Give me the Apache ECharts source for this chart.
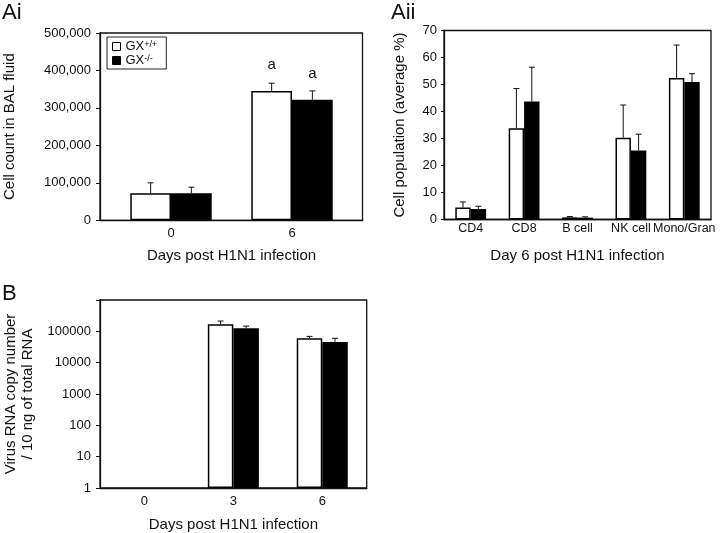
<!DOCTYPE html>
<html><head><meta charset="utf-8">
<script src="https://cdn.jsdelivr.net/npm/echarts@6/dist/echarts.min.js"></script>
<style>html,body{margin:0;padding:0;background:#fff}#c{width:724px;height:533px}</style>
</head><body><div id="c"></div>
<script>
// ---- Panel Ai: cell count in BAL fluid ----
const aiCategories = ['0', '6'];
const aiWT = [72000, 345000];
const aiWTErr = [28000, 21000];
const aiKO = [72500, 321500];
const aiKOErr = [16000, 24000];
const aiSig = ['', 'a'];

// ---- Panel Aii: cell population (average %) ----
const aiiCategories = ['CD4', 'CD8', 'B cell', 'NK cell', 'Mono/Gran'];
const aiiWT = [4.4, 33.8, 0.8, 30.3, 52.4];
const aiiWTErr = [2.1, 14.7, 0.3, 12.1, 12.2];
const aiiKO = [3.9, 43.7, 0.7, 25.6, 50.9];
const aiiKOErr = [1.0, 12.7, 0.3, 6.0, 3.1];

// ---- Panel B: virus RNA copy number ----
const bCategories = ['0', '3', '6'];
const bWT = [null, 167000, 60000];
const bWTErr = [null, 46000, 9000];
const bKO = [null, 125000, 46000];
const bKOErr = [null, 22000, 14000];

const seriesNames = ['GX+/+', 'GX-/-'];

const FONT = '"Liberation Sans", Arial, sans-serif';
const TXT = '#111';

const chart = echarts.init(document.getElementById('c'), null, {renderer: 'canvas'});

function errData(vals, errs) {
  const out = [];
  vals.forEach((v, i) => { if (v != null && errs[i] != null) out.push([i, v, errs[i]]); });
  return out;
}
function errSeries(gi, vals, errs, gap, sign) {
  return {
    type: 'custom', xAxisIndex: gi, yAxisIndex: gi, z: 5, silent: true,
    data: errData(vals, errs),
    renderItem(params, api) {
      const c = api.value(0), v = api.value(1), e = api.value(2);
      const p0 = api.coord([c, v]);
      const p1 = api.coord([c, v + e]);
      const band = Math.abs(api.coord([1, v])[0] - api.coord([0, v])[0]);
      const bw = band * (1 - gap) / 2;
      const x = p0[0] + sign * bw / 2;
      return {type: 'group', children: [
        {type: 'line', shape: {x1: x, y1: p0[1], x2: x, y2: p1[1]}, style: {stroke: '#111', lineWidth: 1}},
        {type: 'line', shape: {x1: x - 3, y1: p1[1], x2: x + 3, y2: p1[1]}, style: {stroke: '#111', lineWidth: 1}}
      ]};
    }
  };
}
function barSeries(gi, name, vals, white, gap, extra) {
  return Object.assign({
    type: 'bar', name: name, xAxisIndex: gi, yAxisIndex: gi,
    data: vals.map(v => v == null ? '-' : v),
    barGap: '0%', barCategoryGap: (gap * 100) + '%',
    itemStyle: {color: white ? '#fff' : '#000', borderColor: '#000', borderWidth: 1.5},
    emphasis: {disabled: true}, animation: false
  }, extra || {});
}

const GAP_AI = 0.327, GAP_AII = 0.423, GAP_B = 0.426;

const axisLineStyle = {show: true, lineStyle: {color: '#111', width: 1.3}};
const nameStyle = {fontSize: 15, fontFamily: FONT, color: TXT};
const tickLabel = (m, fs) => ({fontSize: fs || 13, fontFamily: FONT, color: TXT, margin: m});

const sigLabel = {
  show: true, position: 'top', distance: 19, fontSize: 15, fontFamily: FONT, color: TXT,
  formatter: p => aiSig[p.dataIndex]
};

const option = {
  animation: false,
  backgroundColor: '#fff',
  textStyle: {fontFamily: FONT},
  grid: [
    {left: 100, top: 33, width: 262.5, height: 187.3, show: true, borderColor: '#111', borderWidth: 1.3, containLabel: false},
    {left: 110.5, top: 33, width: 242, height: 187.3, containLabel: false},
    {left: 444, top: 30.5, width: 267, height: 189, show: true, borderColor: '#111', borderWidth: 1.3, containLabel: false},
    {left: 100, top: 300, width: 266.7, height: 189, show: true, borderColor: '#111', borderWidth: 1.3, containLabel: false}
  ],
  xAxis: [
    {gridIndex: 0, type: 'category', data: aiCategories, axisLine: axisLineStyle, axisTick: {show: false}, axisLabel: {show: false}},
    {gridIndex: 1, type: 'category', data: aiCategories, axisLine: {show: false}, axisTick: {show: false},
     axisLabel: tickLabel(7), name: 'Days post H1N1 infection', nameLocation: 'middle', nameGap: 28, nameTextStyle: nameStyle},
    {gridIndex: 2, type: 'category', data: aiiCategories, axisLine: axisLineStyle, axisTick: {show: false},
     axisLabel: Object.assign(tickLabel(3, 12.5), {interval: 0}), name: 'Day 6 post H1N1 infection', nameLocation: 'middle', nameGap: 29, nameTextStyle: nameStyle},
    {gridIndex: 3, type: 'category', data: bCategories, axisLine: axisLineStyle, axisTick: {show: false},
     axisLabel: tickLabel(7), name: 'Days post H1N1 infection', nameLocation: 'middle', nameGap: 29, nameTextStyle: nameStyle}
  ],
  yAxis: [
    {gridIndex: 0, type: 'value', min: 0, max: 500000, interval: 100000, axisLine: axisLineStyle,
     axisTick: {show: true, length: 4, lineStyle: {color: '#111'}}, splitLine: {show: false},
     axisLabel: Object.assign(tickLabel(9), {formatter: v => v.toLocaleString('en-US')}),
     name: 'Cell count in BAL fluid', nameLocation: 'middle', nameGap: 83, nameTextStyle: nameStyle},
    {gridIndex: 1, type: 'value', min: 0, max: 500000, show: false, splitLine: {show: false}},
    {gridIndex: 2, type: 'value', min: 0, max: 70, interval: 10, axisLine: axisLineStyle,
     axisTick: {show: true, length: 3, lineStyle: {color: '#111'}}, splitLine: {show: false},
     axisLabel: tickLabel(7),
     name: 'Cell population (average %)', nameLocation: 'middle', nameGap: 37, nameTextStyle: nameStyle},
    {gridIndex: 3, type: 'log', logBase: 10, min: 1, max: 1000000, axisLine: axisLineStyle,
     axisTick: {show: true, length: 4, lineStyle: {color: '#111'}}, splitLine: {show: false}, minorTick: {show: false},
     axisLabel: Object.assign(tickLabel(9), {formatter: v => { const r = Math.round(v); return r >= 1000000 ? '' : String(r); }}),
     name: 'Virus RNA copy number\n/ 10 ng of total RNA', nameLocation: 'middle', nameGap: 64,
     nameTextStyle: Object.assign({}, nameStyle, {lineHeight: 17})}
  ],
  legend: {
    data: [
      {name: seriesNames[0], icon: 'rect', itemStyle: {color: '#fff', borderColor: '#000', borderWidth: 1}},
      {name: seriesNames[1], icon: 'rect', itemStyle: {color: '#000', borderColor: '#000', borderWidth: 1}}
    ],
    orient: 'vertical', left: 107, top: 37, itemWidth: 8, itemHeight: 8, itemGap: 1,
    padding: [3, 9, 2, 5], borderColor: '#222', borderWidth: 1, selectedMode: false,
    formatter: n => n === seriesNames[0] ? '{m|GX}{s|+/+}' : '{m|GX}{s|-/-}',
    textStyle: {rich: {
      m: {fontSize: 13, fontFamily: FONT, color: TXT, lineHeight: 13},
      s: {fontSize: 9, fontFamily: FONT, color: TXT, lineHeight: 8, verticalAlign: 'top'}
    }}
  },
  graphic: [
    {type: 'text', x: 2, y: 13, style: {text: 'Ai', font: '22px "Liberation Sans", Arial, sans-serif', fill: TXT, verticalAlign: 'middle'}},
    {type: 'text', x: 391, y: 13, style: {text: 'Aii', font: '22px "Liberation Sans", Arial, sans-serif', fill: TXT, verticalAlign: 'middle'}},
    {type: 'text', x: 2, y: 294, style: {text: 'B', font: '22px "Liberation Sans", Arial, sans-serif', fill: TXT, verticalAlign: 'middle'}}
  ],
  series: [
    barSeries(1, seriesNames[0], aiWT, true, GAP_AI, {label: sigLabel}),
    barSeries(1, seriesNames[1], aiKO, false, GAP_AI, {label: sigLabel}),
    errSeries(1, aiWT, aiWTErr, GAP_AI, -1),
    errSeries(1, aiKO, aiKOErr, GAP_AI, 1),
    barSeries(2, seriesNames[0], aiiWT, true, GAP_AII),
    barSeries(2, seriesNames[1], aiiKO, false, GAP_AII),
    errSeries(2, aiiWT, aiiWTErr, GAP_AII, -1),
    errSeries(2, aiiKO, aiiKOErr, GAP_AII, 1),
    barSeries(3, seriesNames[0], bWT, true, GAP_B),
    barSeries(3, seriesNames[1], bKO, false, GAP_B),
    errSeries(3, bWT, bWTErr, GAP_B, -1),
    errSeries(3, bKO, bKOErr, GAP_B, 1)
  ]
};
chart.setOption(option);
</script>
</body></html>
